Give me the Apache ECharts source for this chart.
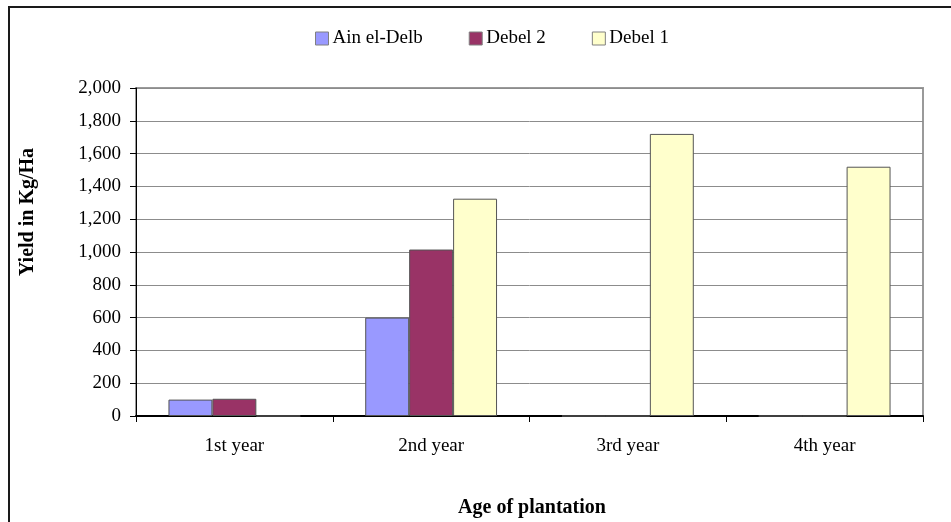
<!DOCTYPE html>
<html>
<head>
<meta charset="utf-8">
<script src="https://cdn.jsdelivr.net/npm/echarts@6/dist/echarts.min.js"></script>
<style>
  html, body { margin: 0; padding: 0; background: #fff; }
  #chart { width: 951px; height: 522px; }
</style>
</head>
<body>
<div id="chart"></div>
<script>
// Yield by plantation age for three date palm varieties (kg/ha)
const categories = ['1st year', '2nd year', '3rd year', '4th year'];
const ainElDelb = [100, 600, 0, 0];
const debel2 = [105, 1015, 0, 0];
const debel1 = [0, 1325, 1720, 1520];
const seriesNames = ['Ain el-Delb', 'Debel 2', 'Debel 1'];
const seriesColors = ['#9999FF', '#993366', '#FFFFCC'];

const FONT = '"Liberation Serif", "Times New Roman", serif';

const chart = echarts.init(document.getElementById('chart'), null, { renderer: 'canvas' });

const dataSets = [ainElDelb, debel2, debel1];

chart.setOption({
  backgroundColor: '#ffffff',
  animation: false,
  textStyle: { fontFamily: FONT, color: '#000' },
  legend: {
    left: 315,
    top: 29,
    padding: 0,
    itemWidth: 13,
    itemHeight: 13,
    itemGap: 46,
    icon: 'rect',
    itemStyle: { borderColor: '#808080', borderWidth: 1 },
    textStyle: { fontFamily: FONT, fontSize: 19, color: '#000', padding: [2, 0, 0, -1] },
    data: seriesNames
  },
  grid: {
    left: 136,
    right: 28,
    top: 88,
    bottom: 106,
    show: true,
    borderColor: '#9a9a9a',
    borderWidth: 2
  },
  xAxis: {
    type: 'category',
    data: categories,
    axisLine: { lineStyle: { color: '#000', width: 2 } },
    axisTick: { show: true, length: 6, lineStyle: { color: '#000', width: 1 } },
    axisLabel: { fontFamily: FONT, fontSize: 19, color: '#000', margin: 21 }
  },
  yAxis: {
    type: 'value',
    min: 0,
    max: 2000,
    interval: 200,
    axisLine: { show: true, lineStyle: { color: '#000', width: 1 } },
    axisTick: { show: true, length: 6, lineStyle: { color: '#000', width: 1 } },
    axisLabel: {
      fontFamily: FONT, fontSize: 19, color: '#000', margin: 15,
      formatter: v => v.toLocaleString('en-US')
    },
    splitLine: { show: true, lineStyle: { color: '#8c8c8c', width: 1 } }
  },
  series: seriesNames.map((name, i) => ({
    name: name,
    type: 'bar',
    data: dataSets[i],
    barGap: '0%',
    barCategoryGap: '33%',
    itemStyle: {
      color: seriesColors[i],
      borderColor: '#555',
      borderWidth: 1
    }
  })),
  graphic: [
    {
      type: 'rect',
      silent: true,
      shape: { x: 9, y: 7, width: 960, height: 540 },
      style: { fill: 'none', stroke: '#1a1a1a', lineWidth: 2 }
    },
    {
      type: 'text',
      rotation: Math.PI / 2,
      x: 28,
      y: 212,
      style: {
        text: 'Yield in Kg/Ha',
        fontFamily: FONT,
        fontSize: 20,
        fontWeight: 'bold',
        fill: '#000',
        align: 'center',
        verticalAlign: 'middle'
      }
    },
    {
      type: 'text',
      x: 532,
      y: 508,
      style: {
        text: 'Age of plantation',
        fontFamily: FONT,
        fontSize: 20,
        fontWeight: 'bold',
        fill: '#000',
        align: 'center',
        verticalAlign: 'middle'
      }
    }
  ]
});
</script>
</body>
</html>
